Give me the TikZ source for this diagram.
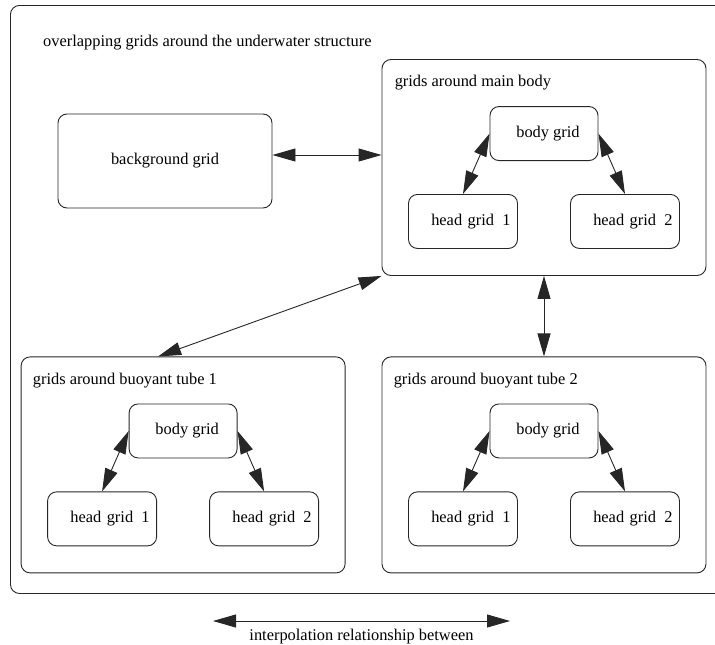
\documentclass[tikz,border=0pt]{standalone}
\usepackage{fontspec}
\setmainfont{Liberation Serif}
\usetikzlibrary{arrows.meta, positioning}

\begin{document}
\begin{tikzpicture}[
        x=1pt, y=1pt,
        font=\fontsize{16.4}{19}\selectfont,
        % Style for the big frames holding a set of grids
        groupbox/.style={rectangle, draw=black!85, line width=0.9pt, rounded corners=9pt, minimum width=324pt, minimum height=216pt, inner sep=0pt},
        % Style for the single grids
        gridbox/.style={rectangle, draw=black!85, line width=0.9pt, rounded corners=9pt, minimum width=108pt, minimum height=54pt, inner sep=0pt},
        headbox/.style={gridbox, text width=95pt, align=right, inner xsep=7pt},
        caption/.style={anchor=base west, inner sep=0pt},
        % Double headed interpolation arrow
        link/.style={{Triangle[length=23pt,width=13pt]}-{Triangle[length=23pt,width=13pt]}, line width=0.9pt, draw=black!85}
    ]

    \useasboundingbox (0,0) rectangle (715,-645);

    % --- OUTER FRAME ---
    \node (outer) [groupbox, minimum width=720pt, minimum height=588pt, anchor=north west] at (10,-5) {};
    \node (title) [caption] at ([shift={(33pt,-41pt)}]outer.north west) {overlapping grids around the underwater structure};

    % --- ROW 1 ---
    \node (bg) [gridbox, minimum width=214pt, minimum height=94pt] at (165,-161) {background grid};
    \node (main) [groupbox] at (544,-167.5) {};
    \node (mainlabel) [caption] at ([shift={(13pt,-27pt)}]main.north west) {grids around main body};

    % --- ROW 2 ---
    \node (tubeB) [groupbox, below=80.5pt of main] {};
    \node (tubeA) [groupbox, left=36pt of tubeB] {};
    \node (tubeAlabel) [caption] at ([shift={(12pt,-28pt)}]tubeA.north west) {grids around buoyant tube 1};
    \node (tubeBlabel) [caption] at ([shift={(12pt,-28pt)}]tubeB.north west) {grids around buoyant tube 2};

    % --- GRIDS INSIDE EACH FRAME ---
    \foreach \grp in {main, tubeA, tubeB} {
        \node (\grp-body) [gridbox] at ([yshift=-74.5pt]\grp.north) {\hspace*{8pt}body grid};
        \node (\grp-head1) [headbox, below=33pt of \grp-body, xshift=-81pt] {head grid\enspace1};
        \node (\grp-head2) [headbox, below=33pt of \grp-body, xshift=81pt] {head grid\enspace2};
        \draw[link] (\grp-body.west) -- (\grp-head1.north);
        \draw[link] (\grp-body.east) -- (\grp-head2.north);
    }

    % --- LINKS BETWEEN FRAMES ---
    \draw[link] ([yshift=6pt]bg.east) -- ([yshift=6pt]bg.east -| main.west);
    \draw[link] (main.south west) -- ([xshift=-25pt]tubeA.north);
    \draw[link] (main.south) -- (tubeB.north);

    % --- LEGEND ---
    \coordinate (legL) at (213,-621);
    \coordinate (legR) at (510,-621);
    \draw[link] (legL) -- (legR) node[midway, below=4pt] {interpolation relationship between};

\end{tikzpicture}
\end{document}
